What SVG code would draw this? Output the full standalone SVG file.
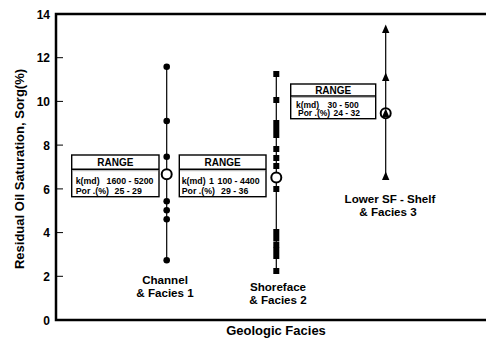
<svg xmlns="http://www.w3.org/2000/svg" width="486" height="344" viewBox="0 0 486 344">
<style>
text{font-family:"Liberation Sans",Arial,sans-serif;font-weight:bold;fill:#000}
.tick{font-size:12px;text-anchor:end}
.lbl{font-size:11.6px;text-anchor:middle}
.ttl{font-size:13px;text-anchor:middle}
.axis{stroke:#000;stroke-width:2.5;fill:none}
.tk{stroke:#000;stroke-width:1}
.vl{stroke:#000;stroke-width:1.2}
.box{fill:#fff;stroke:#000;stroke-width:1.4}
.hd{font-size:10px;text-anchor:middle}
.bt{font-size:8.8px}
.bs{font-size:8.5px}
.mean{fill:#fff;stroke:#000;stroke-width:2}
</style>
<defs>
<circle id="dot" r="3.3" fill="#000"/>
<rect id="sq" x="-3" y="-3" width="6" height="6" fill="#000"/>
<path id="tri" d="M0,-5.5 L3.7,3 L-3.7,3 Z" fill="#000"/>
</defs>
<rect width="486" height="344" fill="#fff"/>
<g id="axes">
<path class="axis" d="M486,14 H56 V320 H486"/>
<path class="tk" d="M56,57.7h7M56,101.4h7M56,145.1h7M56,188.9h7M56,232.6h7M56,276.3h7"/>
<text class="tick" x="50" y="18.5">14</text>
<text class="tick" x="50" y="62">12</text>
<text class="tick" x="50" y="106">10</text>
<text class="tick" x="50" y="149.5">8</text>
<text class="tick" x="50" y="193.5">6</text>
<text class="tick" x="50" y="237">4</text>
<text class="tick" x="50" y="281">2</text>
<text class="tick" x="50" y="324.5">0</text>
<text class="ttl" transform="translate(23.5,169) rotate(-90)">Residual Oil Saturation, Sorg(%)</text>
<text class="ttl" x="276" y="335">Geologic Facies</text>
</g>
<g id="connectors">
<line class="vl" x1="166.7" y1="66.7" x2="166.7" y2="260.3"/>
<line class="vl" x1="276.3" y1="74" x2="276.3" y2="271"/>
<line class="vl" x1="385.7" y1="28" x2="385.7" y2="178"/>
</g>
<g id="channel">
<use href="#dot" x="166.7" y="66.7"/>
<use href="#dot" x="166.7" y="121"/>
<use href="#dot" x="166.7" y="156.7"/>
<use href="#dot" x="166.7" y="201.3"/>
<use href="#dot" x="166.7" y="210.3"/>
<use href="#dot" x="166.7" y="219.3"/>
<use href="#dot" x="166.7" y="260.3"/>
<circle class="mean" cx="166.7" cy="174.3" r="5"/>
<text class="lbl" x="165" y="283.5">Channel</text>
<text class="lbl" x="165" y="297">&amp; Facies 1</text>
</g>
<g id="shoreface">
<use href="#sq" x="276.3" y="74"/>
<use href="#sq" x="276.3" y="100"/>
<use href="#sq" x="276.3" y="123"/>
<use href="#sq" x="276.3" y="129"/>
<use href="#sq" x="276.3" y="135"/>
<use href="#sq" x="276.3" y="149"/>
<use href="#sq" x="276.3" y="158"/>
<use href="#sq" x="276.3" y="166"/>
<use href="#sq" x="276.3" y="189"/>
<use href="#sq" x="276.3" y="232"/>
<use href="#sq" x="276.3" y="238"/>
<use href="#sq" x="276.3" y="244.5"/>
<use href="#sq" x="276.3" y="250"/>
<use href="#sq" x="276.3" y="256"/>
<use href="#sq" x="276.3" y="271"/>
<circle class="mean" cx="276.3" cy="177.5" r="5"/>
<text class="lbl" x="278" y="291">Shoreface</text>
<text class="lbl" x="278" y="304">&amp; Facies 2</text>
</g>
<g id="lowersf">
<use href="#tri" x="385.7" y="30"/>
<use href="#tri" x="385.7" y="78"/>
<use href="#tri" x="385.7" y="177"/>
<circle class="mean" cx="385.7" cy="113.3" r="5"/>
<use href="#tri" x="385.7" y="114"/>
<text class="lbl" x="390" y="203">Lower SF - Shelf</text>
<text class="lbl" x="388" y="215.5">&amp; Facies 3</text>
</g>
<g id="range1">
<rect class="box" x="71.7" y="155" width="87.3" height="41.7"/>
<line x1="71.7" y1="169.3" x2="159" y2="169.3" stroke="#000" stroke-width="1.4"/>
<line x1="72.5" y1="170.7" x2="158.2" y2="170.7" stroke="#999" stroke-width="0.8"/>
<text class="hd" x="115.3" y="166">RANGE</text>
<text class="bt" x="75.7" y="183.5">k(md)<tspan x="106.5">1600 - 5200</tspan></text>
<text class="bt" x="75.7" y="194">Por .(%)<tspan x="114.5">25 - 29</tspan></text>
</g>
<g id="range2">
<rect class="box" x="179.3" y="155" width="86.7" height="41.7"/>
<line x1="179.3" y1="169.3" x2="266" y2="169.3" stroke="#000" stroke-width="1.4"/>
<line x1="180" y1="170.7" x2="265.2" y2="170.7" stroke="#999" stroke-width="0.8"/>
<text class="hd" x="222.6" y="166">RANGE</text>
<text class="bt" x="181.7" y="183.5">k(md)<tspan x="209">1</tspan><tspan x="217.5">100 - 4400</tspan></text>
<text class="bt" x="181.7" y="194">Por .(%)<tspan x="221">29 - 36</tspan></text>
</g>
<g id="range3">
<rect class="box" x="290.7" y="84" width="85" height="34.7"/>
<line x1="290.7" y1="96" x2="375.7" y2="96" stroke="#000" stroke-width="1.4"/>
<line x1="291.5" y1="97.4" x2="375" y2="97.4" stroke="#999" stroke-width="0.8"/>
<text class="hd" x="333.2" y="93.6">RANGE</text>
<text class="bs" x="296" y="107.5">k(md)<tspan x="327.5">30 - 500</tspan></text>
<text class="bs" x="298" y="116.2">Por .(%)<tspan x="333.5">24 - 32</tspan></text>
</g>
</svg>
